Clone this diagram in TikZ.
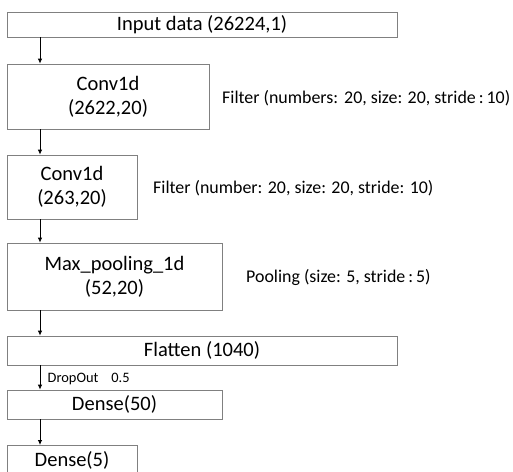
\documentclass[tikz,border=0pt]{standalone}
\usepackage{fontspec}
\setmainfont{Carlito}
\usetikzlibrary{arrows.meta}
\begin{document}
\begin{tikzpicture}[x=1pt,y=-1pt,
  box/.style={draw=black!50,line width=0.8pt,inner sep=0pt,align=center,font=\fontsize{20.5}{24}\selectfont},
  side/.style={anchor=west,inner sep=0pt,font=\fontsize{17.9}{21}\selectfont},
  flow/.style={draw=black,line width=0.8pt,-{Latex[length=5pt,width=4.5pt]}}]
\useasboundingbox (0,0) rectangle (513,471);
\clip (0,0) rectangle (513,471);
\node[box,minimum width=390pt,minimum height=25pt] (in) at (202,24.5) {Input data (26224,1)};
\node[box,minimum width=202pt,minimum height=65pt] (c1) at (108,96.5) {Conv1d\\(2622,20)};
\node[box,minimum width=130pt,minimum height=64pt] (c2) at (72,187) {Conv1d\\(263,20)};
\node[box,minimum width=215pt,minimum height=67pt] (mp) at (114.5,276.5) {Max\_pooling\_1d\\(52,20)};
\node[box,minimum width=390pt,minimum height=29pt] (fl) at (202,350.5) {Flatten (1040)};
\node[box,minimum width=215pt,minimum height=29pt] (d50) at (114.5,404.5) {Dense(50)};
\node[box,minimum width=130pt,minimum height=32pt,anchor=north] (d5) at (72,445) {};
\node[box,draw=none] (d5t) at (72,460.5) {Dense(5)};
\node[side] (f1) at (222,98) {Filter (numbers:\hspace{6pt}20, size: 20, stride\,:\,10)};
\node[side] (f2) at (153,188) {Filter (number: 20, size: 20, stride: 10)};
\node[side] (p1) at (246,277) {Pooling (size: 5, stride\,:\,5)};
\node[side,font=\fontsize{14.4}{17}\selectfont] (dr) at (47.5,379) {DropOut\hspace{13pt}0.5};
\coordinate (ax) at (40,0);
\draw[flow] (in.south -| ax) -- (c1.north -| ax);
\draw[flow] (c1.south -| ax) -- (c2.north -| ax);
\draw[flow] (c2.south -| ax) -- (mp.north -| ax);
\draw[flow] (mp.south -| ax) -- (fl.north -| ax);
\draw[flow] (fl.south -| ax) -- (d50.north -| ax);
\draw[flow] (d50.south -| ax) -- (d5.north -| ax);
\end{tikzpicture}
\end{document}
